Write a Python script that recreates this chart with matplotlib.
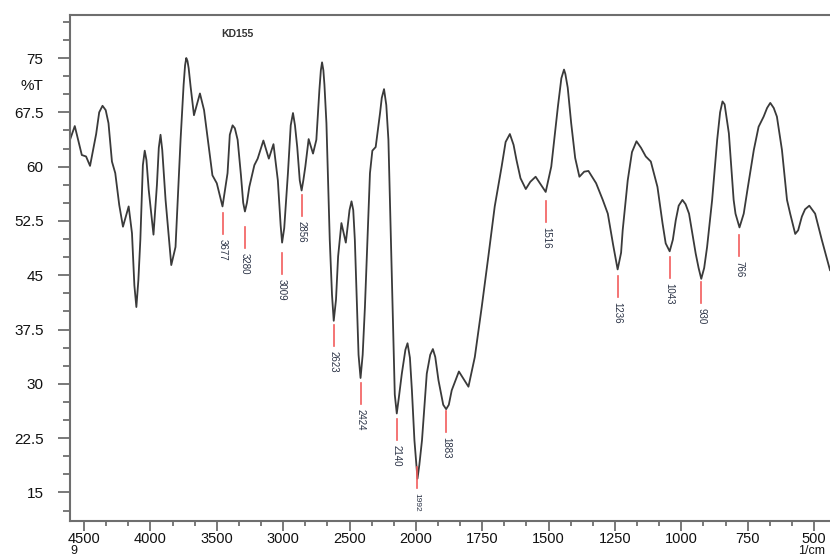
import numpy as np
import matplotlib
matplotlib.use('Agg')
import matplotlib.pyplot as plt

plt.rcParams['font.family'] = ['Liberation Sans', 'DejaVu Sans']

# Spectrum (wavenumber 1/cm, %T)
onda = [4606, 4570, 4517, 4485, 4455, 4409, 4386, 4361, 4337, 4316,
        4290, 4265, 4235, 4207, 4164, 4139, 4121, 4106, 4091, 4076,
        4057, 4043, 4030, 4013, 3977, 3951, 3937, 3924, 3911, 3886,
        3843, 3811, 3773, 3750, 3739, 3730, 3721, 3712, 3697, 3672,
        3627, 3596, 3558, 3533, 3500, 3457, 3419, 3402, 3381, 3364,
        3343, 3318, 3301, 3288, 3273, 3255, 3217, 3192, 3149, 3108,
        3073, 3040, 3019, 3008, 2992, 2964, 2943, 2926, 2911, 2894,
        2875, 2861, 2848, 2833, 2808, 2775, 2750, 2727, 2716, 2707,
        2697, 2689, 2674, 2649, 2632, 2619, 2602, 2586, 2561, 2528,
        2500, 2485, 2472, 2460, 2432, 2417, 2401, 2384, 2346, 2328,
        2303, 2270, 2257, 2240, 2223, 2207, 2182, 2159, 2144, 2129,
        2106, 2079, 2063, 2045, 2030, 2011, 1994, 1987, 1977, 1959,
        1946, 1936, 1927, 1915, 1897, 1886, 1876, 1865, 1838, 1802,
        1778, 1752, 1727, 1703, 1677, 1662, 1646, 1632, 1621, 1606,
        1586, 1569, 1549, 1531, 1511, 1490, 1465, 1452, 1442, 1437,
        1428, 1415, 1400, 1384, 1366, 1350, 1321, 1296, 1277, 1257,
        1240, 1227, 1221, 1202, 1186, 1169, 1152, 1134, 1115, 1090,
        1071, 1059, 1044, 1032, 1021, 1010, 996, 984, 971, 946,
        935, 925, 914, 903, 884, 865, 854, 845, 837, 821,
        803, 796, 781, 765, 751, 727, 709, 690, 677, 665,
        652, 640, 621, 602, 590, 571, 560, 546, 534, 518,
        496, 471, 440]
trans = [63.7, 65.6, 61.6, 61.4, 60.1, 64.5, 67.5, 68.4, 67.8, 66.0,
         60.7, 59.1, 54.7, 51.7, 54.5, 50.8, 43.6, 40.6, 44.3, 49.9,
         60.2, 62.2, 60.9, 56.8, 50.6, 57.5, 62.6, 64.4, 62.3, 55.4,
         46.4, 48.9, 63.7, 71.3, 74.0, 75.0, 74.6, 73.6, 71.0, 67.1,
         70.1, 67.8, 62.3, 58.8, 57.7, 54.5, 59.1, 64.4, 65.7, 65.3,
         63.7, 58.8, 55.0, 53.8, 55.0, 57.2, 60.2, 61.1, 63.6, 61.1,
         63.1, 58.1, 51.9, 49.5, 51.5, 59.1, 65.7, 67.4, 65.7, 62.7,
         58.1, 56.7, 58.1, 60.0, 63.8, 61.8, 63.7, 70.6, 73.3, 74.4,
         73.3, 71.3, 66.0, 49.9, 42.3, 38.7, 41.6, 47.6, 52.2, 49.5,
         54.0, 55.2, 54.0, 49.9, 34.0, 30.8, 34.0, 40.6, 59.1, 62.2,
         62.7, 67.4, 69.5, 70.7, 68.5, 63.7, 45.3, 28.5, 25.9, 28.0,
         31.4, 34.7, 35.6, 33.6, 29.1, 22.2, 16.9, 18.8, 22.2, 31.4,
         34.0, 34.8, 33.7, 30.5, 27.1, 26.5, 27.1, 29.1, 31.7, 29.6,
         33.7, 40.6, 47.6, 54.5, 60.0, 63.4, 64.5, 63.0, 60.9, 58.4,
         56.9, 57.9, 58.6, 57.6, 56.5, 60.0, 68.3, 72.2, 73.4, 72.8,
         70.9, 66.0, 61.2, 58.6, 59.3, 59.4, 57.7, 55.4, 53.5, 49.2,
         45.8, 48.1, 51.2, 58.1, 62.0, 63.5, 62.6, 61.4, 60.7, 57.2,
         52.2, 49.4, 48.3, 49.9, 52.6, 54.6, 55.4, 54.8, 53.5, 48.0,
         46.0, 44.5, 46.0, 48.9, 55.4, 63.7, 67.5, 69.0, 68.6, 64.6,
         55.4, 53.5, 51.6, 53.5, 56.8, 62.3, 65.5, 66.9, 68.1, 68.8,
         68.1, 66.9, 62.3, 55.4, 53.5, 50.7, 51.2, 53.1, 54.1, 54.6,
         53.5, 49.9, 45.7]

# Peak marks: where the mark sits, top of the red dash (%T), printed label
pico_pos = [3457, 3290, 3008, 2861, 2619, 2417, 2144, 1996, 1886, 1509, 1240, 1044, 925, 781]
pico_t = [53.6, 51.7, 48.0, 56.1, 38.1, 30.1, 25.1, 18.5, 26.3, 55.2, 44.9, 47.5, 44.0, 50.5]
pico_txt = ['3677', '3280', '3009', '2856', '2623', '2424', '2140', '1992', '1883',
            '1516', '1236', '1043', '930', '766']

x_mayor = [4500, 4000, 3500, 3000, 2500, 2000, 1750, 1500, 1250, 1000, 750, 500]
y_mayor = [15, 22.5, 30, 37.5, 45, 52.5, 60, 67.5, 75]


# Scale is doubled below 2000 1/cm
def adelante(x):
    x = np.asarray(x, dtype=float)
    return np.where(x >= 2000, x, 2 * x - 2000)


def atras(y):
    y = np.asarray(y, dtype=float)
    return np.where(y >= 2000, y, (y + 2000) / 2)


fig = plt.figure(figsize=(8.3, 5.58), dpi=100)
ax = fig.add_axes([70 / 830, 37 / 558, 760 / 830, 506 / 558])
ax.set_xscale('function', functions=(adelante, atras))

ax.plot(onda, trans, color='#3a3a3a', lw=1.3, solid_joinstyle='round')

pt = 1 / 7.24  # %T per pixel
for xp, yp, txt in zip(pico_pos, pico_t, pico_txt):
    ax.plot([xp, xp], [yp, yp - 21 * pt], color='#f25c5c', lw=1.2)
    fs = 6 if txt == '1992' else 7
    ax.text(xp, yp - 26 * pt, txt, rotation=270, ha='center', va='top',
            fontsize=fs, color='#2b3346')

ax.set_xlim(4606, 440)
ax.set_ylim(11.05, 80.94)

ax.set_xticks(x_mayor)
ax.set_xticklabels([str(v) for v in x_mayor])
menores_x = [4500 - i * 500 / 3 for i in range(-1, 16)] + [2000 - i * 250 / 3 for i in range(1, 20)]
menores_x = [v for v in menores_x if 440 < v < 4606 and v not in x_mayor]
ax.set_xticks(menores_x, minor=True)

ax.set_yticks(y_mayor)
ax.set_yticklabels(['15', '22.5', '30', '37.5', '45', '52.5', '60', '67.5', '75'])
ax.set_yticks(np.arange(12.5, 81, 2.5), minor=True)

ax.tick_params(axis='y', which='major', length=8.6, width=1.1, pad=10.5,
               labelsize=11, colors='#555555', labelcolor='#111111')
ax.tick_params(axis='y', which='minor', length=5, width=1.1, colors='#555555')
ax.tick_params(axis='x', which='major', length=7, width=1.1, pad=1,
               labelsize=10.5, colors='#555555', labelcolor='#111111')
ax.tick_params(axis='x', which='minor', length=3.6, width=1.1, colors='#555555')

for lado in ['left', 'bottom', 'top']:
    ax.spines[lado].set_color('#6e6e6e')
    ax.spines[lado].set_linewidth(1.5)
ax.spines['right'].set_visible(False)

ax.text(0.199, 0.962, 'KD155', transform=ax.transAxes, fontsize=7.5,
        color='#333333', ha='left', va='center', fontweight='bold')
fig.text(43 / 830, 1 - 86 / 558, '%T', ha='right', va='center', fontsize=11, color='#111111')
fig.text(74 / 830, 0.5 / 558, '9', ha='center', va='bottom', fontsize=9, color='#111111')
fig.text(812 / 830, 0.5 / 558, '1/cm', ha='center', va='bottom', fontsize=9, color='#111111')

plt.savefig('out.png', dpi=100)
